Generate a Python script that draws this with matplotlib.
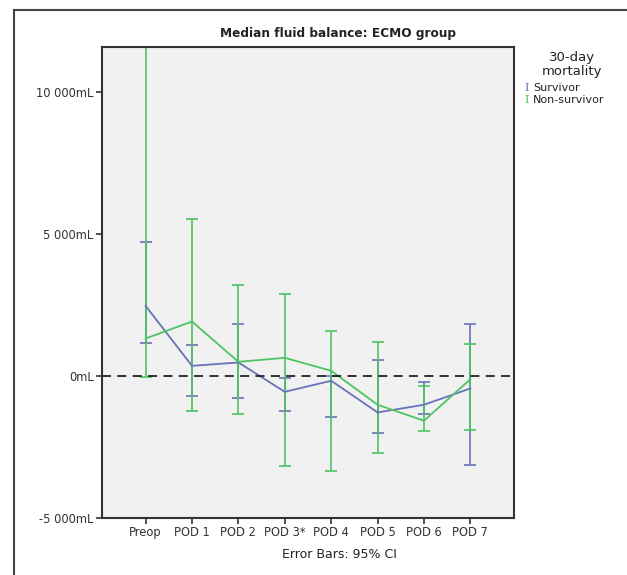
import matplotlib.pyplot as plt
import numpy as np
from matplotlib.patches import Rectangle

days = ['Preop', 'POD 1', 'POD 2', 'POD 3*', 'POD 4', 'POD 5', 'POD 6', 'POD 7']

surv_mid = [2475, 363, 481, -552, -164, -1279, -1009, -434]
surv_lo = [1185, -716, -763, -1244, -1431, -1995, -1350, -3133]
surv_hi = [4740, 1090, 1830, -82, 0, 563, -223, 1830]

nons_mid = [1326, 1925, 504, 645, 188, -1009, -1572, -106]
nons_lo = [-23, -1232, -1350, -3168, -3344, -2698, -1924, -1889]
nons_hi = [13500, 5537, 3215, 2910, 1584, 1197, -364, 1138]

blue = '#6a72b8'
green = '#4cc462'

fig = plt.figure(figsize=(6.27, 5.75), dpi=100)
ax = fig.add_axes([102 / 627, 1 - 518 / 575, 412 / 627, 471 / 575])
ax.set_facecolor('#f1f1f1')

x = np.arange(len(days))


def draw(mid, lo, hi, color):
    mid = np.array(mid)
    err = [mid - np.array(lo), np.array(hi) - mid]
    ax.errorbar(x, mid, yerr=err, color=color, lw=1.3, elinewidth=1.2,
                capsize=4.3, capthick=1.2)


draw(surv_mid, surv_lo, surv_hi, blue)
draw(nons_mid, nons_lo, nons_hi, green)

ax.axhline(0, color='#222222', lw=1.3, ls=(0, (5, 3.5)), zorder=3)

ax.set_xlim(-0.94, 7.94)
ax.set_ylim(-5000, 11600)
ax.set_xticks(x)
ax.set_xticklabels(days)
ax.set_yticks([-5000, 0, 5000, 10000])
ax.set_yticklabels(['-5 000mL', '0mL', '5 000mL', '10 000mL'])
ax.tick_params(direction='out', length=4, width=1.2, color='#333333',
               labelsize=8.3, labelcolor='#333333', pad=2)
for s in ax.spines.values():
    s.set_color('#333333')
    s.set_linewidth(1.5)

fig.text(338 / 627, 1 - 33 / 575, 'Median fluid balance: ECMO group',
         ha='center', va='center', fontsize=8.7, fontweight='bold',
         color='#222222')
fig.text(339 / 627, 1 - 555 / 575, 'Error Bars: 95% CI', ha='center',
         va='center', fontsize=9, color='#222222')

# legend
fig.text(572 / 627, 1 - 57 / 575, '30-day', ha='center', va='center',
         fontsize=9.5, color='#222222')
fig.text(572 / 627, 1 - 71 / 575, 'mortality', ha='center', va='center',
         fontsize=9.5, color='#222222')
for yy, lab, col in [(88, 'Survivor', blue), (100, 'Non-survivor', green)]:
    fig.text(527 / 627, 1 - yy / 575, 'I', ha='center', va='center',
             fontsize=8, family='DejaVu Serif', color=col)
    fig.text(533 / 627, 1 - yy / 575, lab, ha='left', va='center',
             fontsize=8, color='#222222')

# outer chart frame
fig.patches.append(Rectangle((14 / 627, -0.1), 1.2, 1.1 - 10 / 575,
                             transform=fig.transFigure, fill=False,
                             edgecolor='#444444', lw=1.5))

fig.savefig('out.png', dpi=100)
